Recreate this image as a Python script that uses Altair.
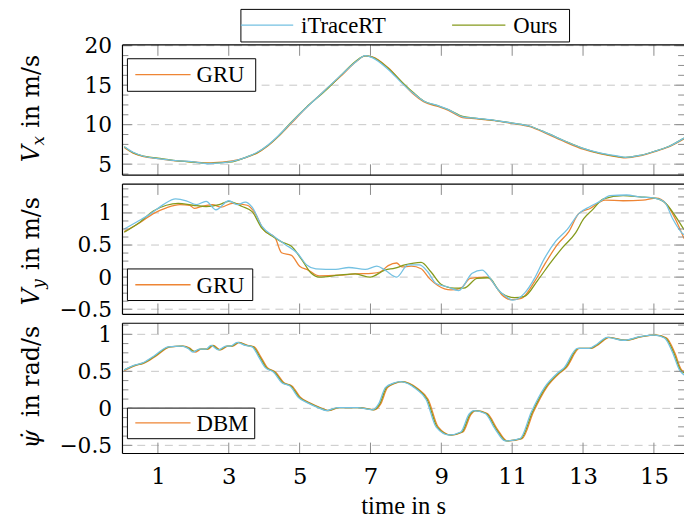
import altair as alt
import pandas as pd

# ---------------- data ----------------
X_TICKS = [1, 3, 5, 7, 9, 11, 13, 15]
X_DOMAIN = [0.0, 15.85]

# Panel 1: V_x in m/s
VX_T = [0.05, 0.3, 0.6, 1.0, 1.5, 2.0, 2.4, 2.8, 3.1, 3.5, 3.8, 4.1, 4.4, 4.75, 5.2, 5.7, 6.2, 6.6, 6.85, 7.05,
        7.5, 7.9, 8.2, 8.5, 8.9, 9.2, 9.6, 10.0, 10.5, 11.0, 11.5, 12.0, 12.5, 13.0, 13.5, 14.0, 14.2, 14.6,
        15.0, 15.4, 15.85]
VX_ITRACE = [7.2, 6.5, 6.0, 5.7, 5.45, 5.3, 5.05, 5.15, 5.35, 5.9, 6.5, 7.4, 8.6, 10.2, 12.2, 14.3, 16.4, 18.0,
             18.75, 18.5, 17.0, 15.2, 14.0, 13.0, 12.4, 11.9, 11.0, 10.8, 10.55, 10.2, 9.8, 8.9, 7.9, 7.0, 6.4,
             6.0, 5.85, 6.1, 6.6, 7.2, 8.3]
VX_OURS = [7.2, 6.45, 6.0, 5.75, 5.45, 5.25, 5.1, 5.2, 5.3, 5.9, 6.45, 7.35, 8.55, 10.25, 12.25, 14.2, 16.4,
           18.1, 18.7, 18.55, 17.15, 15.35, 14.1, 13.0, 12.4, 11.9, 11.05, 10.8, 10.55, 10.2, 9.8, 8.9, 7.9,
           7.0, 6.35, 5.95, 5.85, 6.1, 6.6, 7.2, 8.3]
VX_GRU = [7.1, 6.4, 5.95, 5.7, 5.4, 5.3, 5.15, 5.25, 5.4, 5.85, 6.4, 7.3, 8.5, 10.1, 12.2, 14.3, 16.3, 18.0,
          18.7, 18.6, 17.2, 15.3, 13.9, 12.9, 12.3, 11.8, 10.9, 10.75, 10.5, 10.15, 9.75, 8.8, 7.8, 6.9, 6.3,
          5.9, 5.8, 6.05, 6.55, 7.15, 8.2]

# Panel 2: V_y in m/s
VY_T_ITRACE = [0.05, 0.4, 0.8, 1.15, 1.5, 1.8, 2.08, 2.36, 2.64, 3.0, 3.24, 3.47, 3.66, 3.94, 4.26, 4.59, 4.96,
               5.2, 5.46, 6.02, 6.39, 6.85, 7.18, 7.41, 7.74, 8.06, 8.38, 8.62, 8.85, 9.17, 9.49, 9.87, 10.15,
               10.38, 10.61, 10.75, 11.02, 11.35, 11.63, 11.9, 12.23, 12.55, 12.88, 13.2, 13.48, 13.76, 14.23,
               14.6, 15.02, 15.3, 15.53, 15.76, 15.85]
VY_ITRACE = [0.75, 0.86, 0.99, 1.13, 1.22, 1.19, 1.13, 1.18, 1.05, 1.19, 1.13, 1.17, 1.09, 0.79, 0.64, 0.51,
             0.36, 0.19, 0.13, 0.12, 0.15, 0.12, 0.17, 0.11, 0.0, 0.19, 0.19, 0.08, -0.10, -0.15, -0.21, 0.06,
             0.11, -0.02, -0.20, -0.27, -0.36, -0.25, -0.02, 0.28, 0.56, 0.74, 0.99, 1.10, 1.18, 1.27, 1.28,
             1.25, 1.23, 1.17, 0.91, 0.71, 0.66]
VY_T_OURS = [0.05, 0.5, 0.87, 1.24, 1.57, 1.99, 2.36, 2.73, 3.0, 3.38, 3.66, 3.94, 4.22, 4.49, 4.77, 5.05, 5.33,
             5.55, 6.11, 6.57, 6.99, 7.41, 7.69, 7.97, 8.43, 8.71, 8.99, 9.36, 9.64, 10.01, 10.34, 10.61, 10.7,
             11.07, 11.35, 11.72, 12.09, 12.42, 12.79, 13.02, 13.25, 13.58, 14.13, 14.6, 15.02, 15.35, 15.62,
             15.85]
VY_OURS = [0.70, 0.86, 1.03, 1.12, 1.15, 1.12, 1.10, 1.13, 1.18, 1.10, 1.02, 0.76, 0.64, 0.55, 0.48, 0.28, 0.06,
           0.0, 0.03, 0.05, 0.0, 0.11, 0.14, 0.19, 0.23, 0.08, -0.11, -0.17, -0.17, -0.02, -0.01, -0.20, -0.25,
           -0.32, -0.30, -0.05, 0.23, 0.46, 0.69, 0.91, 1.04, 1.22, 1.27, 1.25, 1.23, 1.14, 0.94, 0.74]
VY_T_GRU = [0.05, 0.5, 0.87, 1.24, 1.62, 1.9, 2.03, 2.22, 2.54, 2.78, 3.1, 3.52, 3.75, 3.98, 4.31, 4.49, 4.77,
            5.0, 5.24, 5.55, 6.11, 6.57, 7.04, 7.27, 7.5, 7.74, 7.88, 8.15, 8.43, 8.66, 8.9, 9.27, 9.55, 9.82,
            10.29, 10.57, 10.7, 10.98, 11.26, 11.63, 11.95, 12.28, 12.6, 12.88, 13.2, 13.62, 14.13, 14.69,
            15.07, 15.35, 15.62, 15.85]
VY_GRU = [0.71, 0.85, 0.99, 1.08, 1.13, 1.12, 1.07, 1.10, 1.13, 1.09, 1.15, 1.12, 0.99, 0.74, 0.61, 0.38, 0.34,
          0.17, 0.11, 0.02, 0.03, 0.05, 0.06, 0.08, 0.18, 0.22, 0.16, 0.17, 0.13, -0.02, -0.13, -0.20, -0.17,
          -0.02, 0.0, -0.17, -0.27, -0.35, -0.33, -0.07, 0.23, 0.51, 0.71, 0.99, 1.07, 1.20, 1.19, 1.20, 1.23,
          1.14, 0.89, 0.60]

# Panel 3: yaw rate in rad/s
PSI_T_ITRACE = [0.05, 0.32, 0.55, 0.87, 1.29, 1.66, 1.85, 1.99, 2.17, 2.36, 2.5, 2.71, 2.92, 3.05, 3.24, 3.47,
                3.66, 3.84, 4.03, 4.26, 4.49, 4.73, 4.96, 5.24, 5.52, 5.75, 6.07, 6.63, 7.05, 7.23, 7.42, 7.65,
                7.84, 8.29, 8.57, 8.85, 9.22, 9.55, 9.78, 9.92, 10.24, 10.52, 10.8, 11.22, 11.54, 11.91, 12.29,
                12.47, 12.84, 13.17, 13.4, 13.68, 14.14, 14.61, 15.02, 15.3, 15.53, 15.72, 15.85]
PSI_T_OURS = [0.05, 0.35, 0.58, 0.9, 1.32, 1.69, 1.88, 2.02, 2.2, 2.39, 2.53, 2.74, 2.95, 3.08, 3.27, 3.5, 3.69,
              3.87, 4.06, 4.29, 4.52, 4.76, 4.99, 5.27, 5.55, 5.78, 6.1, 6.66, 7.08, 7.26, 7.45, 7.68, 7.87,
              8.32, 8.6, 8.88, 9.25, 9.58, 9.81, 9.95, 10.27, 10.55, 10.83, 11.25, 11.57, 11.94, 12.32, 12.5,
              12.87, 13.2, 13.43, 13.71, 14.17, 14.64, 15.05, 15.33, 15.56, 15.75, 15.85]
PSI_T_DBM = [0.05, 0.38, 0.61, 0.93, 1.35, 1.72, 1.91, 2.05, 2.23, 2.42, 2.56, 2.77, 2.98, 3.11, 3.3, 3.53, 3.72,
             3.9, 4.09, 4.32, 4.55, 4.79, 5.02, 5.3, 5.58, 5.81, 6.13, 6.69, 7.11, 7.29, 7.48, 7.71, 7.9, 8.35,
             8.63, 8.91, 9.28, 9.61, 9.84, 9.98, 10.3, 10.58, 10.86, 11.28, 11.6, 11.97, 12.35, 12.53, 12.9,
             13.23, 13.46, 13.74, 14.2, 14.67, 15.08, 15.36, 15.59, 15.78, 15.85]
PSI_ITRACE = [0.52, 0.58, 0.61, 0.70, 0.83, 0.84, 0.81, 0.76, 0.80, 0.80, 0.85, 0.79, 0.84, 0.84, 0.89, 0.85,
              0.83, 0.70, 0.55, 0.49, 0.35, 0.30, 0.15, 0.07, 0.01, -0.03, 0.01, 0.01, -0.02, 0.06, 0.28, 0.34,
              0.36, 0.26, 0.12, -0.25, -0.36, -0.32, -0.08, -0.03, -0.07, -0.28, -0.44, -0.41, -0.05, 0.28, 0.48,
              0.55, 0.81, 0.81, 0.87, 0.96, 0.92, 0.97, 0.99, 0.95, 0.75, 0.52, 0.45]
PSI_OURS = [0.52, 0.58, 0.61, 0.70, 0.83, 0.84, 0.81, 0.77, 0.80, 0.80, 0.85, 0.79, 0.84, 0.84, 0.89, 0.85,
            0.83, 0.70, 0.55, 0.49, 0.35, 0.30, 0.15, 0.07, 0.01, -0.03, 0.01, 0.01, -0.02, 0.06, 0.28, 0.34,
            0.36, 0.26, 0.12, -0.25, -0.36, -0.32, -0.08, -0.03, -0.07, -0.28, -0.44, -0.41, -0.05, 0.28, 0.48,
            0.55, 0.81, 0.81, 0.87, 0.96, 0.92, 0.97, 0.99, 0.95, 0.75, 0.52, 0.48]
PSI_DBM = [0.51, 0.58, 0.61, 0.70, 0.83, 0.84, 0.81, 0.76, 0.80, 0.80, 0.85, 0.79, 0.84, 0.84, 0.89, 0.85,
           0.83, 0.70, 0.55, 0.49, 0.35, 0.30, 0.15, 0.07, 0.01, -0.03, 0.01, 0.01, -0.02, 0.06, 0.28, 0.34,
           0.36, 0.26, 0.12, -0.25, -0.36, -0.32, -0.08, -0.03, -0.07, -0.28, -0.44, -0.41, -0.05, 0.28, 0.48,
           0.55, 0.81, 0.81, 0.87, 0.96, 0.92, 0.97, 0.99, 0.95, 0.75, 0.52, 0.50]

VX_DOMAIN = [3.6, 20.1]
VX_MAJOR = [5, 10, 15, 20]
VX_MINOR = [3.75, 6.25, 7.5, 8.75, 11.25, 12.5, 13.75, 16.25, 17.5, 18.75]
VY_DOMAIN = [-0.58, 1.45]
VY_MAJOR = [-0.5, 0, 0.5, 1]
VY_MINOR = [-0.375, -0.25, -0.125, 0.125, 0.25, 0.375, 0.625, 0.75, 0.875, 1.125, 1.25, 1.375]
PSI_DOMAIN = [-0.61, 1.15]
PSI_MAJOR = [-0.5, 0, 0.5, 1]
PSI_MINOR = [-0.375, -0.25, -0.125, 0.125, 0.25, 0.375, 0.625, 0.75, 0.875, 1.125]

LABEL_ITRACE = "iTraceRT"
LABEL_OURS = "Ours"
LABEL_GRU = "GRU"
LABEL_DBM = "DBM"

# ---------------- style ----------------
C_BLUE = "#74C1E2"
C_GREEN = "#859A1C"
C_ORANGE = "#EE8534"
TICK_C = "#8a8a8a"
GRID_C = "#c6c6c6"
NUM_FONT = "DejaVu Serif"
TXT_FONT = "Liberation Serif"
W, H = 569, 132
LW = 1.3

ONE = pd.DataFrame({"k": [0]})


def xenc(axis):
    return alt.X("t:Q", scale=alt.Scale(domain=X_DOMAIN, nice=False, zero=False), axis=axis)


def yenc(dom, axis):
    return alt.Y("v:Q", scale=alt.Scale(domain=dom, nice=False, zero=False), axis=axis)


def panel(dom, major, minor, fmt, series, legend, title, show_x):
    yaxis = alt.Axis(values=major, ticks=False, domain=False, grid=False, labelFont=NUM_FONT,
                     labelFontSize=22, labelColor="black", labelPadding=11, title=None, format=fmt)
    if show_x:
        xaxis = alt.Axis(values=X_TICKS, ticks=False, domain=False, grid=False, labelFont=NUM_FONT,
                         labelFontSize=23, labelColor="black", labelPadding=12, format="d",
                         title="time in s", titleFont=TXT_FONT, titleFontSize=25, titleFontWeight="normal",
                         titleColor="black", titlePadding=6)
    else:
        xaxis = None
    layers = []
    # grid
    layers.append(
        alt.Chart(pd.DataFrame({"v": major})).mark_rule(color=GRID_C, strokeDash=[8, 6], strokeWidth=1).encode(
            y=yenc(dom, yaxis))
    )
    # series
    for t, v, c in series:
        df = pd.DataFrame({"t": t, "v": v})
        layers.append(alt.Chart(df).mark_line(color=c, strokeWidth=LW, clip=True, interpolate="monotone").encode(
            x=xenc(xaxis), y=yenc(dom, yaxis)))
    # x ticks (inward, top and bottom)
    xt = pd.DataFrame({"t": X_TICKS})
    layers.append(alt.Chart(xt).mark_rule(color=TICK_C, strokeWidth=1).encode(
        x=xenc(xaxis), y=alt.value(0), y2=alt.value(11)))
    layers.append(alt.Chart(xt).mark_rule(color=TICK_C, strokeWidth=1).encode(
        x=xenc(xaxis), y=alt.value(H - 11), y2=alt.value(H)))
    # y ticks (inward, left and right)
    mj = pd.DataFrame({"v": major})
    mn = pd.DataFrame({"v": minor})
    for d, ln in ((mj, 10), (mn, 6)):
        layers.append(alt.Chart(d).mark_rule(color=TICK_C, strokeWidth=1).encode(
            y=yenc(dom, yaxis), x=alt.value(0), x2=alt.value(ln)))
        layers.append(alt.Chart(d).mark_rule(color=TICK_C, strokeWidth=1).encode(
            y=yenc(dom, yaxis), x=alt.value(W - ln), x2=alt.value(W)))
    # frame (right side is cropped in the reference)
    fr = alt.Chart(ONE).mark_rule(color="black", strokeWidth=1.2)
    layers.append(fr.encode(x=alt.value(0), y=alt.value(0), y2=alt.value(H)))
    layers.append(fr.encode(x=alt.value(0), x2=alt.value(W), y=alt.value(0)))
    layers.append(fr.encode(x=alt.value(0), x2=alt.value(W), y=alt.value(H)))
    # legends
    for (bx1, bx2, by1, by2, items) in legend:
        layers.append(alt.Chart(ONE).mark_rect(fill="white", stroke="black", strokeWidth=1).encode(
            x=alt.value(bx1), x2=alt.value(bx2), y=alt.value(by1), y2=alt.value(by2)))
        for (col, lx1, lx2, ly, lab, tx) in items:
            layers.append(alt.Chart(ONE).mark_rule(color=col, strokeWidth=LW).encode(
                x=alt.value(lx1), x2=alt.value(lx2), y=alt.value(ly)))
            layers.append(alt.Chart(ONE).mark_text(align="left", baseline="middle", font=TXT_FONT,
                                                   fontSize=23, color="black").encode(
                x=alt.value(tx), y=alt.value(ly + 1), text=alt.value(lab)))
    # rotated y title pieces
    for (txt, tx, ty, size, style) in title:
        layers.append(alt.Chart(ONE).mark_text(angle=270, align="left", baseline="alphabetic", font=NUM_FONT,
                                               fontSize=size, fontStyle=style, color="black").encode(
            x=alt.value(tx), y=alt.value(ty), text=alt.value(txt)))
    return alt.layer(*layers).properties(width=W, height=H)


p1 = panel(
    VX_DOMAIN, VX_MAJOR, VX_MINOR, "d",
    [(VX_T, VX_GRU, C_ORANGE), (VX_T, VX_OURS, C_GREEN), (VX_T, VX_ITRACE, C_BLUE)],
    [(5, 135, 14, 47, [(C_ORANGE, 13, 69, 30, LABEL_GRU, 75)]),
     (120, 453, -36, -3, [(C_BLUE, 120, 173, -20, LABEL_ITRACE, 181),
                          (C_GREEN, 334, 388, -20, LABEL_OURS, 396)])],
    [("V", -85, 119, 24, "italic"), ("x", -80, 102, 17, "italic"), ("in m/s", -85, 84, 24, "normal")],
    False,
)
p2 = panel(
    VY_DOMAIN, VY_MAJOR, VY_MINOR, "~g",
    [(VY_T_GRU, VY_GRU, C_ORANGE), (VY_T_OURS, VY_OURS, C_GREEN), (VY_T_ITRACE, VY_ITRACE, C_BLUE)],
    [(5, 132, 86, 118, [(C_ORANGE, 13, 69, 102, LABEL_GRU, 75)])],
    [("V", -85, 123, 24, "italic"), ("y", -80, 106, 17, "italic"), ("in m/s", -85, 87, 24, "normal")],
    False,
)
p3 = panel(
    PSI_DOMAIN, PSI_MAJOR, PSI_MINOR, "~g",
    [(PSI_T_DBM, PSI_DBM, C_ORANGE), (PSI_T_OURS, PSI_OURS, C_GREEN), (PSI_T_ITRACE, PSI_ITRACE, C_BLUE)],
    [(5, 134, 86, 117, [(C_ORANGE, 13, 69, 101, LABEL_DBM, 75)])],
    [("\u03c8\u0307", -85, 127, 24, "italic"), ("in rad/s", -85, 95, 24, "normal")],
    True,
)

chart = alt.vconcat(p1, p2, p3, spacing=9, bounds="flush").properties(
    padding={"left": 12, "top": -3, "right": 0, "bottom": 0}
).configure_view(stroke=None)

chart.save("out.html", embed_options={"renderer": "svg", "actions": False})
